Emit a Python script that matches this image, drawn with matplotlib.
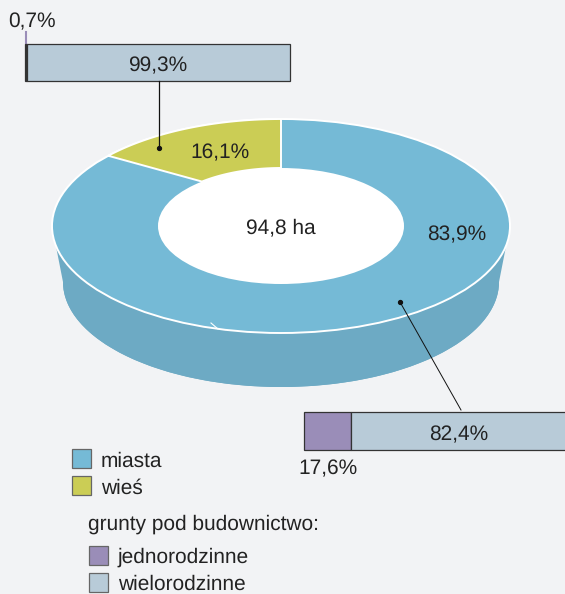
"""Land for housing: donut split into towns and villages, with two detail bars."""
import matplotlib

matplotlib.use("Agg")

import matplotlib.pyplot as plt
import numpy as np
from matplotlib.patches import Ellipse, Polygon, Rectangle

plt.rcParams["font.family"] = ["Liberation Sans", "DejaVu Sans"]
plt.rcParams["text.hinting"] = "none"

# ---- data ----
AREA_LABEL = "94,8 ha"
AREA_SHARE = [83.9, 16.1]  # miasta, wieś
AREA_LABELS = ["83,9%", "16,1%"]
TOWN_SPLIT = [17.6, 82.4]  # jednorodzinne, wielorodzinne
TOWN_LABELS = ["17,6%", "82,4%"]
VILLAGE_SPLIT = [0.7, 99.3]
VILLAGE_LABELS = ["0,7%", "99,3%"]
LEGEND_AREA = ["miasta", "wieś"]
LEGEND_TITLE = "grunty pod budownictwo:"
LEGEND_TYPE = ["jednorodzinne", "wielorodzinne"]

BG = "#F2F3F5"
BLUE = "#75BAD6"
BLUE_SIDE = "#6DAAC4"
OLIVE = "#CBCD55"
PURPLE = "#9A8DB8"
STEEL = "#B8CBD8"
INK = "#222222"
FS = 15

# pie geometry, pixels
CX, CY = 281, 226
RX, RY = 229, 107
HOLE_RX, HOLE_RY = 123, 58
# the tilted view squeezes the slice angle, more at the inner edge
SQUEEZE_OUTER, SQUEEZE_INNER = 0.845, 0.69


def ring_xy(rx, ry, deg, cy=CY):
    t = np.radians(deg)
    return np.column_stack([CX - rx * np.sin(t), cy - ry * np.cos(t)])


def stacked_bar(ax, left, y, height, full, shares, colors):
    x = left
    for share, color in zip(shares, colors):
        w = full * share / 100
        ax.barh(y, w, height=height, left=x, color=color, edgecolor="#333333",
                linewidth=0.9, zorder=3)
        x += w


def swatch(ax, x, y, base, color, label):
    ax.add_patch(Rectangle((x, y), 19, 19, facecolor=color, edgecolor="#666666",
                           linewidth=0.9, zorder=3))
    ax.text(x + 29, base, label, fontsize=FS, color=INK, va="baseline", ha="left")


fig = plt.figure(figsize=(5.65, 5.94), dpi=100)
fig.patch.set_facecolor(BG)
ax = fig.add_axes([0, 0, 1, 1])
ax.set_xlim(0, 565)
ax.set_ylim(594, 0)
ax.axis("off")

# ---- side of the disc ----
low = np.linspace(90, 270, 90)
top_edge = ring_xy(RX, RY, low)
bottom_edge = ring_xy(218, 105, low, cy=282)
ax.add_patch(Polygon(np.vstack([top_edge, bottom_edge[::-1]]), facecolor=BLUE_SIDE,
                     edgecolor="none", zorder=1))
ax.add_patch(Ellipse((CX, 282), 436, 210, facecolor=BLUE_SIDE, edgecolor="none", zorder=1))

# ---- top of the disc ----
ax.add_patch(Ellipse((CX, CY), 2 * RX, 2 * RY, facecolor=BLUE, edgecolor="white",
                     linewidth=1.4, zorder=2))
end_outer = AREA_SHARE[1] * 3.6 * SQUEEZE_OUTER
end_inner = AREA_SHARE[1] * 3.6 * SQUEEZE_INNER
outer = ring_xy(RX, RY, np.linspace(0, end_outer, 60))
inner = ring_xy(HOLE_RX, HOLE_RY, np.linspace(0, end_inner, 40))
ax.add_patch(Polygon(np.vstack([outer, inner[::-1]]), facecolor=OLIVE, edgecolor="white",
                     linewidth=1.4, zorder=2.2))
ax.add_patch(Ellipse((CX, CY), 2 * HOLE_RX, 2 * HOLE_RY, facecolor="white",
                     edgecolor="none", zorder=2.5))
ax.plot([211, 218], [323, 329], color="white", lw=0.8, zorder=2.6)

# ---- detail bars ----
stacked_bar(ax, 25, 62.5, 37, 265, VILLAGE_SPLIT, ["#333333", STEEL])
stacked_bar(ax, 304, 431, 38, 267, TOWN_SPLIT, [PURPLE, STEEL])
ax.plot([26, 26], [32, 44], color=PURPLE, lw=1.5, zorder=2)

# ---- leader lines ----
ax.plot([159, 159], [81, 148], color="#111111", lw=0.9, zorder=4)
ax.plot([159], [148], "o", color="#111111", ms=2.8, zorder=4)
ax.plot([400, 461], [302, 410], color="#111111", lw=0.7, zorder=4)
ax.plot([400], [302], "o", color="#111111", ms=2.8, zorder=4)

# ---- labels ----
text_kw = dict(fontsize=FS, color=INK, ha="center", va="baseline", zorder=5)
ax.text(457, 240, AREA_LABELS[0], **text_kw)
ax.text(220, 158, AREA_LABELS[1], **text_kw)
ax.text(281, 233, AREA_LABEL, **text_kw)
ax.text(32, 27, VILLAGE_LABELS[0], **text_kw)
ax.text(158, 71, VILLAGE_LABELS[1], **text_kw)
ax.text(328, 474, TOWN_LABELS[0], **text_kw)
ax.text(459, 440, TOWN_LABELS[1], **text_kw)

# ---- legend ----
swatch(ax, 72, 449, 467, BLUE, LEGEND_AREA[0])
swatch(ax, 72, 476, 494, OLIVE, LEGEND_AREA[1])
ax.text(88, 530, LEGEND_TITLE, fontsize=FS, color=INK, va="baseline", ha="left")
swatch(ax, 89, 546, 563, PURPLE, LEGEND_TYPE[0])
swatch(ax, 89, 573, 590, STEEL, LEGEND_TYPE[1])

fig.savefig("out.png", dpi=100, facecolor=BG)
plt.close(fig)
